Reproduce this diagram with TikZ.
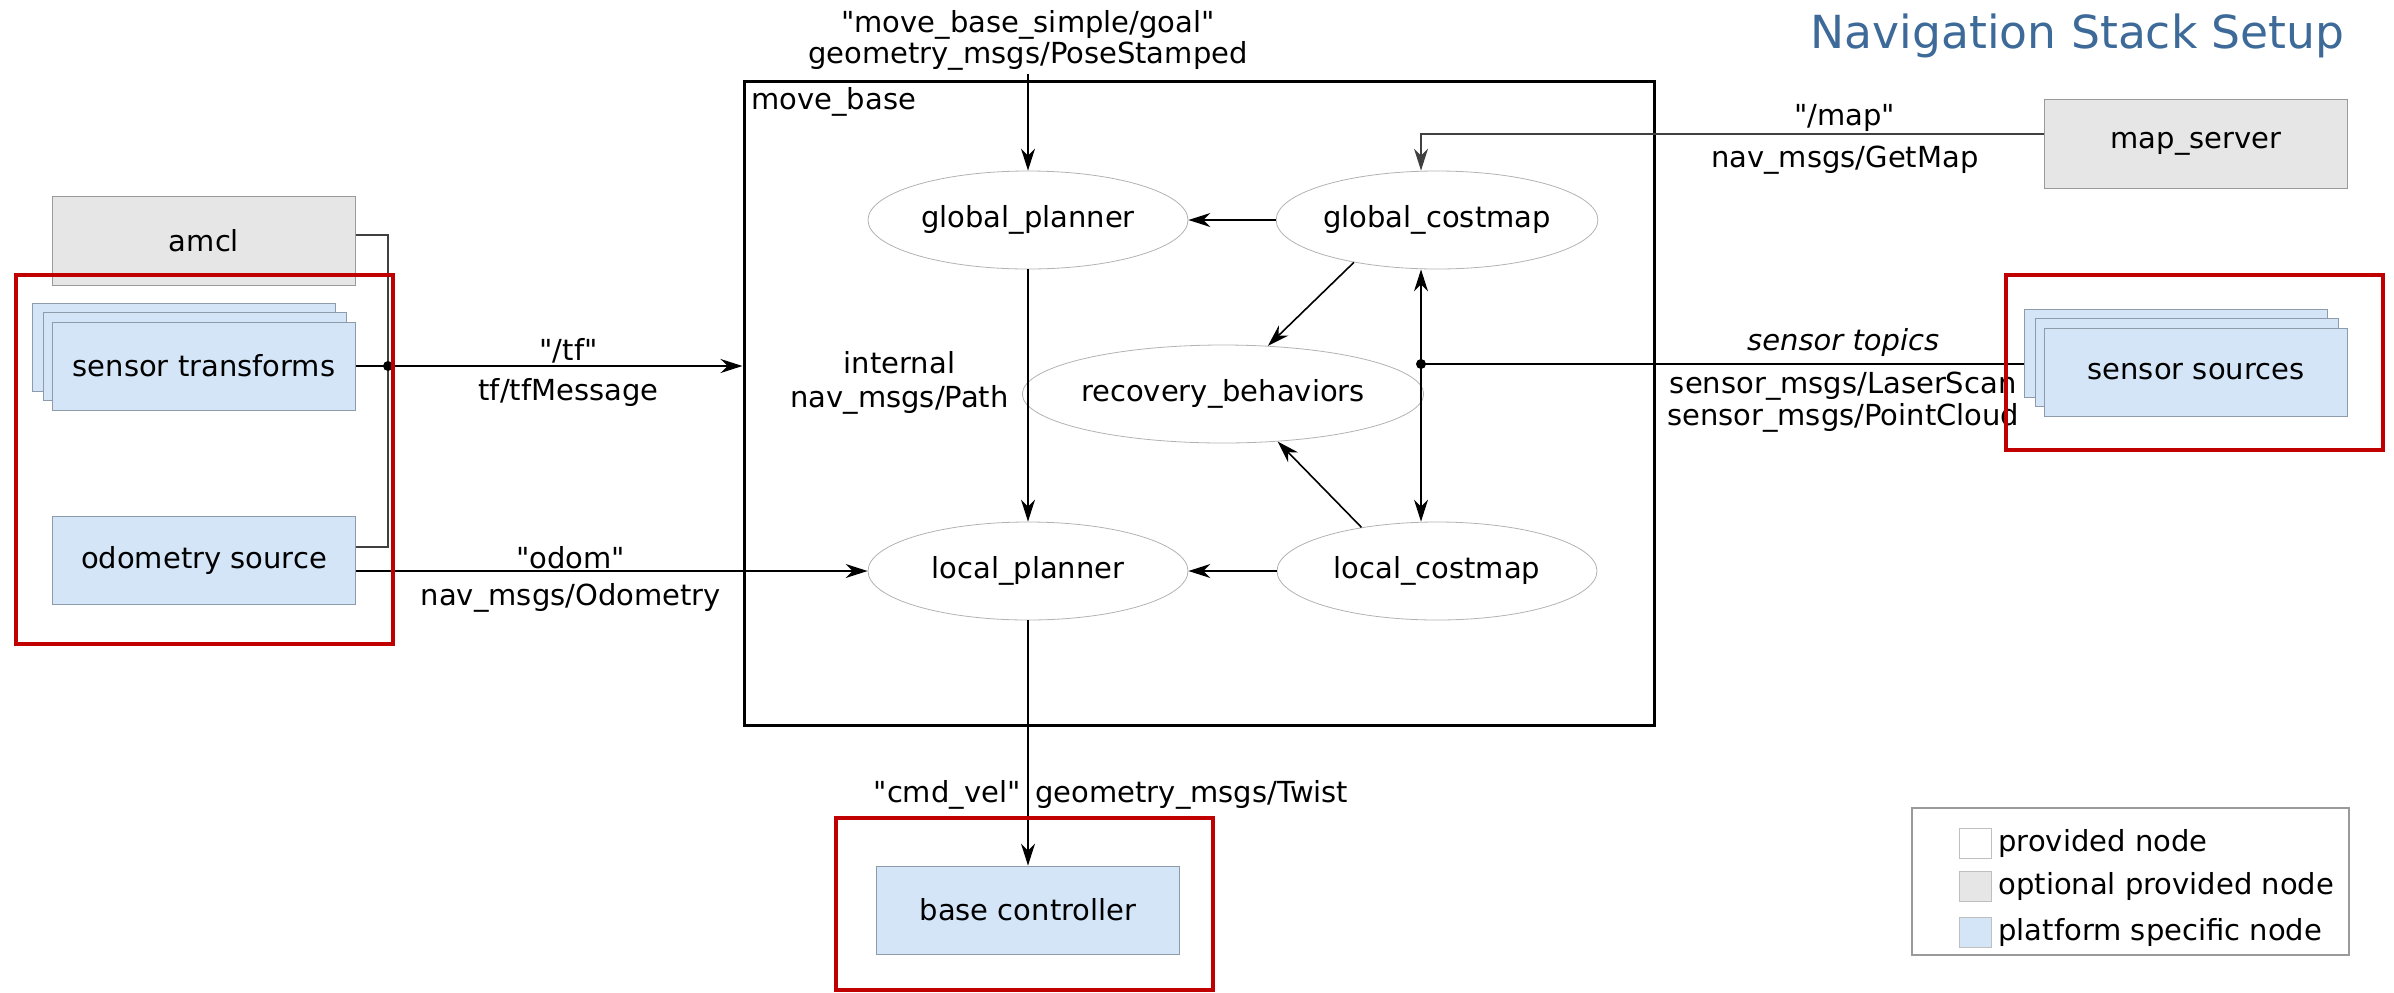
\documentclass[tikz,border=0pt]{standalone}
\usepackage{fontspec}
\setmainfont{DejaVu Sans}[Ligatures=TeXOff]
\usepackage{tikz}
\usetikzlibrary{calc,arrows.meta,positioning,shapes.geometric,shadows}

\definecolor{platblue}{HTML}{D4E5F7}
\definecolor{platedge}{HTML}{8E9BAA}
\definecolor{optgray}{HTML}{E6E6E6}
\definecolor{optedge}{HTML}{9A9A9A}
\definecolor{titleblue}{HTML}{3D6A98}
\definecolor{hilite}{HTML}{C00000}

\begin{document}
\begin{tikzpicture}[>={Stealth[length=11pt,width=7pt]}, x=0.5pt, y=-0.5pt,
    font=\fontsize{14.5}{17.4}\selectfont,
    optbox/.style={draw=optedge, fill=optgray, minimum width=151.5pt, minimum height=44.5pt},
    platbox/.style={draw=platedge, fill=platblue, minimum width=151.5pt, minimum height=44pt},
    stack/.style={copy shadow={shadow xshift=-10pt, shadow yshift=9.5pt},
                  copy shadow={shadow xshift=-4.5pt, shadow yshift=5pt}},
    proc/.style={ellipse, draw=gray!60, minimum width=160pt, minimum height=49pt, inner sep=0pt},
    wire/.style={line width=0.8pt},
    topic/.style={yshift=-2.5pt},
    redbox/.style={draw=hilite, line width=2pt}]
  \useasboundingbox (0,0) rectangle (2394,992);

  % Title
  \node[anchor=east, inner sep=0pt, text=titleblue, font=\fontsize{22.8}{27}\selectfont]
    (title) at (2345,36) {Navigation Stack Setup};

  % move_base and its parts
  \node[draw, line width=1.5pt, minimum width=455pt, minimum height=322pt, inner sep=0pt]
    (mb) at (1199,403) {};
  \node[anchor=west, inner sep=0pt] (mblbl) at (751,102) {move\_base};
  \node[proc] (gplan) at (1028,220) {global\_planner};
  \node[proc] (gcost) at (1437,220) {global\_costmap};
  \node[proc] (rec) at (1223,394) {recovery\_behaviors};
  \node[proc] (lplan) at (1028,571) {local\_planner};
  \node[proc] (lcost) at (1437,571) {local\_costmap};

  % Nodes round it
  \node[optbox] (amcl) at (204,241) {amcl};
  \node[platbox, stack] (stf) at (204,366) {sensor transforms};
  \node[platbox] (odom) at (204,560) {odometry source};
  \node[optbox] (mapsrv) at (2196,144) {map\_server};
  \node[platbox, stack] (ssrc) at (2196,372) {sensor sources};
  \node[platbox] (bctrl) at (1028,910) {base controller};
  \node[align=center, inner sep=2pt, font=\fontsize{14.5}{13.5}\selectfont]
    (goal) at (1028,40) {"move\_base\_simple/goal"\\geometry\_msgs/PoseStamped};

  % Junctions
  \coordinate (tfdot) at (388,366);
  \coordinate (sdot) at (1421,364);
  \path (ssrc.west) ++(-20,0) coordinate (ssrcin);

  % Topics from the left
  \draw[wire, draw=black!75] ($(amcl.east)+(0,-6)$) -| (tfdot) |- ($(odom.east)+(0,-13)$);
  \draw[wire, ->] (stf.east) -- (stf.east -| mb.west)
    node[pos=.55, above, topic] {"/tf"} node[pos=.55, below, topic] {tf/tfMessage};
  \fill (tfdot) circle (2.5pt);
  \draw[wire, ->] ($(odom.east)+(0,11)$) -- (lplan.west)
    node[pos=.42, above, topic] {"odom"} node[pos=.42, below, topic] {nav\_msgs/Odometry};

  % Inside move_base
  \draw[wire, ->] (goal) -- (gplan);
  \draw[wire, ->] (gcost) -- (gplan);
  \draw[wire, ->] (lcost) -- (lplan);
  \draw[wire, ->] (gplan) -- (lplan)
    node[pos=.45, left=6pt, align=center] {internal\\nav\_msgs/Path};
  \draw[wire, ->] (gcost.207) -- (rec.47);
  \draw[wire, ->] (lcost.150) -- (rec.319);
  \draw[wire, <->] (gcost.south -| sdot) -- (lcost.north -| sdot);

  % Topics from the right
  \draw[wire, ->, draw=black!75] ($(mapsrv.west)+(0,-10)$) -| (gcost.north -| sdot)
    node[pos=.16, above, topic] {"/map"} node[pos=.16, below, topic] {nav\_msgs/GetMap};
  \draw[wire] (sdot) -- (sdot -| ssrcin)
    node[pos=.7, above] {\itshape sensor topics}
    node[pos=.7, below, align=center, font=\fontsize{14.5}{16}\selectfont]
      {sensor\_msgs/LaserScan\\sensor\_msgs/PointCloud};
  \fill (sdot) circle (2.5pt);

  % Velocity out
  \draw[wire, ->] (lplan) -- (bctrl)
    node[pos=.71, left] {"cmd\_vel"} node[pos=.71, right] {geometry\_msgs/Twist};

  % Legend
  \draw[draw=optedge, line width=0.6pt] (1912,808) rectangle (2349,955);
  \foreach \y/\c/\t in {843/white/provided node, 886/optgray/optional provided node,
                        932/platblue/platform specific node} {
    \node[draw=gray!50, fill=\c, minimum width=16pt, minimum height=15pt, inner sep=0pt]
      (sw\y) at (1975,\y) {};
    \node[anchor=west] (lg\y) at (sw\y.east) {\t};
  }

  % Highlights
  \draw[redbox] (16,275) rectangle (393,644);
  \draw[redbox] (2006,275) rectangle (2383,450);
  \draw[redbox] (836,818) rectangle (1213,990);
\end{tikzpicture}
\end{document}
